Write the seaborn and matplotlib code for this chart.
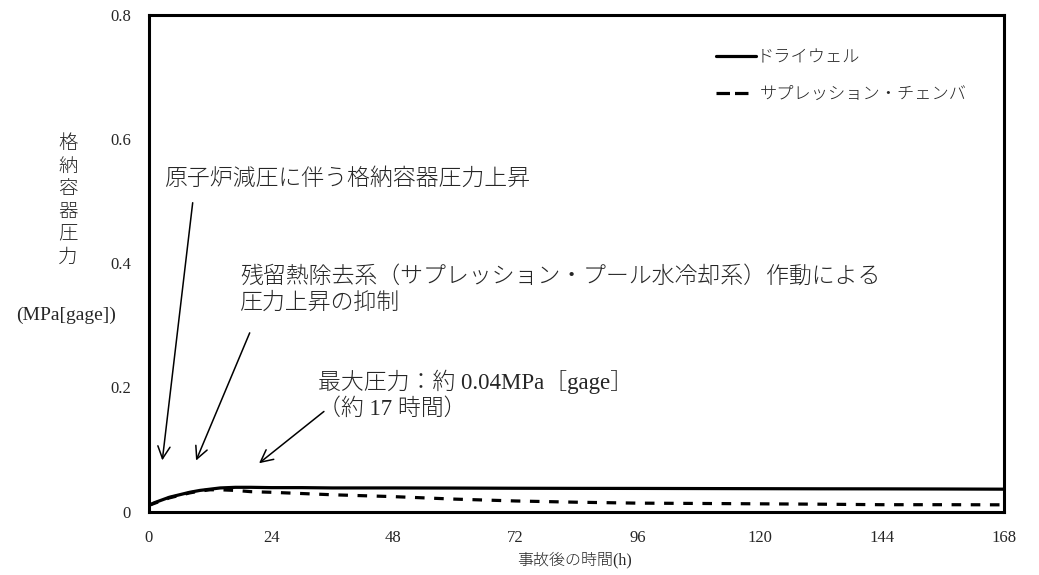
import numpy as np
import pandas as pd
import matplotlib
matplotlib.use('Agg')
import matplotlib.pyplot as plt
from matplotlib.lines import Line2D
import seaborn as sns

# time after accident (h) and pressures (MPa[gage])
hours = [0, 1, 2, 3, 4, 5, 6, 8, 10, 12, 14, 17, 20, 24, 30, 36, 48, 60, 72,
         84, 96, 108, 120, 132, 144, 156, 168]
drywell = [0.010, 0.014, 0.017, 0.020, 0.023, 0.025, 0.027, 0.031, 0.034, 0.036,
           0.038, 0.039, 0.039, 0.0385, 0.0385, 0.038, 0.038, 0.0378, 0.0375,
           0.0373, 0.0372, 0.037, 0.0368, 0.0366, 0.0365, 0.0363, 0.036]
wetwell = [0.010, 0.013, 0.016, 0.019, 0.022, 0.024, 0.026, 0.030, 0.033, 0.035,
           0.035, 0.034, 0.032, 0.031, 0.029, 0.027, 0.024, 0.020, 0.017,
           0.015, 0.0135, 0.013, 0.0124, 0.0118, 0.011, 0.011, 0.0108]
series = ['ドライウェル', 'サプレッション・チェンバ']

x_ticks = [0, 24, 48, 72, 96, 120, 144, 168]
y_ticks = [0, 0.2, 0.4, 0.6, 0.8]
y_ticklabels = ['0', '0.2', '0.4', '0.6', '0.8']

df = pd.concat([
    pd.DataFrame({'t': hours, 'p': drywell, 's': series[0]}),
    pd.DataFrame({'t': hours, 'p': wetwell, 's': series[1]}),
])

sns.set_style('white')
plt.rcParams['font.family'] = ['Liberation Serif', 'Noto Sans CJK JP', 'DejaVu Sans']

fig = plt.figure(figsize=(10.39, 5.75), dpi=100)
ax = fig.add_axes([0.1434, 0.1104, 0.8229, 0.8635])

LW = 2.3
sns.lineplot(data=df, x='t', y='p', hue='s', style='s',
             palette=['black', 'black'],
             dashes={series[0]: '', series[1]: (3, 3)},
             linewidth=LW, legend=False, ax=ax)

ax.set_xlim(0, 168); ax.set_ylim(0, 0.8)
ax.set_xticks(x_ticks); ax.set_yticks(y_ticks)
ax.set_xticklabels([str(v) for v in x_ticks], fontsize=12)
ax.set_yticklabels(y_ticklabels, fontsize=12)
ax.tick_params(direction='in', length=5, width=0.8, color='#999999')
ax.tick_params(axis='y', pad=13)
ax.tick_params(axis='x', pad=13)
for sp in ax.spines.values():
    sp.set_linewidth(2.2); sp.set_color('black')
ax.set_xlabel(''); ax.set_ylabel('')

fig.text(575/1039, 1 - 560/575, '事故後の時間(h)', ha='center', va='center', fontsize=11.5,
         fontweight='light')
fig.text(68/1039, 1 - 201/575, '\n'.join('格納容器圧力'), ha='center', va='center',
         fontsize=14, linespacing=1.43, fontweight='light')
fig.text(66/1039, 1 - 315/575, '(MPa[gage])', ha='center', va='center', fontsize=14)

# legend: two entries drawn as separate legends to control each sample
solid = Line2D([], [], color='black', lw=LW)
dashed = Line2D([], [], color='black', lw=LW, dashes=(4.22, 1.57))
leg1 = ax.legend([solid], [series[0]], loc='upper left',
                 bbox_to_anchor=(716/1039, 1 - 50/575), bbox_transform=fig.transFigure,
                 frameon=False, handlelength=2.3, handletextpad=0.05,
                 borderpad=0, borderaxespad=0, prop={'size': 12.4, 'weight': 'light'})
ax.add_artist(leg1)
ax.legend([dashed], [series[1]], loc='upper left',
          bbox_to_anchor=(716/1039, 1 - 87/575), bbox_transform=fig.transFigure,
          frameon=False, handlelength=1.86, handletextpad=0.7,
          borderpad=0, borderaxespad=0, prop={'size': 12.4, 'weight': 'light'})

# annotations
fs = 16.5
kw = dict(fontsize=fs, va='center', fontweight='light')
ax.text(3.1, 0.536, '原子炉減圧に伴う格納容器圧力上昇', **kw)
ax.text(17.9, 0.357, '残留熱除去系（サプレッション・プール水冷却系）作動による\n圧力上昇の抑制',
        linespacing=1.3, **kw)
ax.text(33.2, 0.209, '最大圧力：約 0.04MPa［gage］', **kw)
ax.text(33.2, 0.165, '（約 17 時間）', **kw)

arrow = dict(arrowstyle='->', color='black', lw=1.1, mutation_scale=22)
ax.annotate('', xy=(2.55, 0.078), xytext=(8.65, 0.502), arrowprops=arrow)
ax.annotate('', xy=(9.04, 0.078), xytext=(20.0, 0.292), arrowprops=arrow)
ax.annotate('', xy=(21.2, 0.075), xytext=(34.8, 0.164), arrowprops=arrow)

plt.savefig('out.png', dpi=100)
plt.close()
